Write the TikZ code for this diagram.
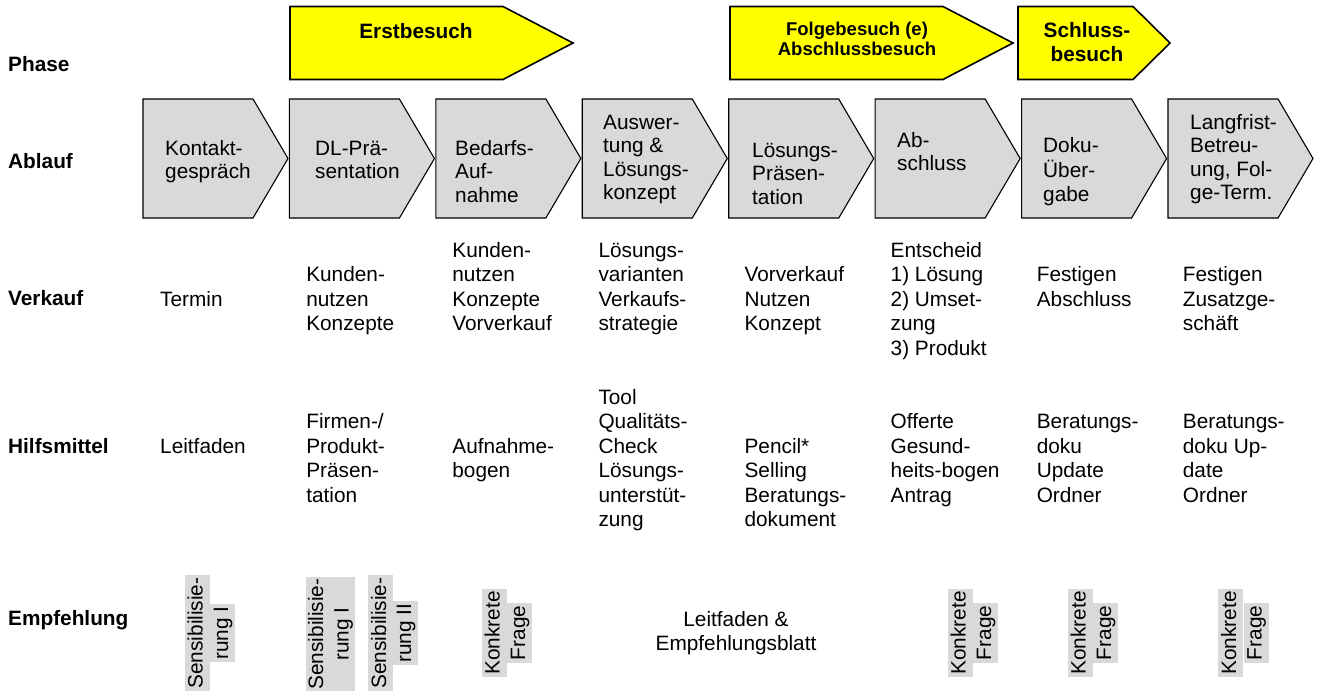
\documentclass[tikz,border=0pt]{standalone}
\usepackage{fontspec}
\setmainfont{Liberation Sans}
\definecolor{phaseyellow}{HTML}{FFFF00}
\definecolor{stepgray}{HTML}{D9D9D9}

\begin{document}
\begin{tikzpicture}[
    x=1pt, y=-1pt,
    phase/.style={draw=black, fill=phaseyellow, line width=1.6pt},
    ablauf/.style={draw=black, fill=stepgray, line width=1.1pt},
    rowlabel/.style={font=\fontsize{20.8}{24.5}\selectfont\bfseries, anchor=base west, inner sep=0pt},
    phasetext/.style={font=\fontsize{20.8}{24.5}\selectfont\bfseries, align=center, anchor=north, inner sep=0pt},
    steptext/.style={font=\fontsize{20.8}{23.5}\selectfont, align=left, anchor=north west, inner sep=0pt},
    celltext/.style={font=\fontsize{20.8}{24.5}\selectfont, align=left, anchor=north west, inner sep=0pt},
    hl/.style={font=\fontsize{20.8}{25.5}\selectfont, fill=stepgray, rotate=90, inner xsep=2.5pt, inner ysep=2.5pt, text height=15.5pt, text depth=4.5pt},
    hlblock/.style={font=\fontsize{20.8}{25.5}\selectfont, fill=stepgray, rotate=90, align=center, inner xsep=1.5pt, inner ysep=2.5pt}
  ]
    \useasboundingbox (0,0) rectangle (1319,691);

    % Zeilentitel
    \node[rowlabel] (lblPhase) at (8,71) {Phase};
    \node[rowlabel] (lblAblauf) at (8,168) {Ablauf};
    \node[rowlabel] (lblVerkauf) at (8,305) {Verkauf};
    \node[rowlabel] (lblHilfe) at (8,453) {Hilfsmittel};
    \node[rowlabel] (lblEmpf) at (8,625) {Empfehlung};

    % Phase
    \draw[phase] (290,6.5) -- (503,6.5) -- (573,43) -- (503,79.5) -- (290,79.5) -- cycle;
    \draw[phase] (730,6.5) -- (943,6.5) -- (1013,43) -- (943,79.5) -- (730,79.5) -- cycle;
    \draw[phase] (1018,6.5) -- (1133,6.5) -- (1170,43) -- (1133,79.5) -- (1018,79.5) -- cycle;
    \node[phasetext] (erst) at (416,{38.5-17.15}) {\strut Erstbesuch};
    \node[phasetext, font=\fontsize{18.5}{20}\selectfont\bfseries] (folge) at (857,{35-14}) {\strut Folgebesuch (e)\\Abschlussbesuch};
    \node[phasetext] (schluss) at (1087,{37-17.15}) {\strut Schluss-\\besuch};

    % Ablauf
    \foreach \tx/\ty/\txt [count=\i] in {
      165/155/{Kontakt-\\gespräch},
      315/155/{DL-Prä-\\sentation},
      455/155/{Bedarfs-\\Auf-\\nahme},
      603/129/{Auswer-\\tung \&\\Lösungs-\\konzept},
      752/157/{Lösungs-\\Präsen-\\tation},
      897/147/{Ab-\\schluss},
      1043/152/{Doku-\\Über-\\gabe},
      1190/129/{Langfrist-\\Betreu-\\ung, Fol-\\ge-Term.}}
    {
      \draw[ablauf] ({143+146.43*(\i-1)},99) -- ++(110,0) -- ++(35,59.5) -- ++(-35,59.5) -- ++(-110,0) -- cycle;
      \node[steptext] (step\i) at (\tx,{\ty-16.45}) {\strut\txt};
    }

    % Verkauf
    \foreach \r/\txt [count=\i] in {
      2/{Termin},
      1/{Kunden-\\nutzen\\Konzepte},
      0/{Kunden-\\nutzen\\Konzepte\\Vorverkauf},
      0/{Lösungs-\\varianten\\Verkaufs-\\strategie},
      1/{Vorverkauf\\Nutzen\\Konzept},
      0/{Entscheid\\1) Lösung\\2) Umset-\\zung\\3) Produkt},
      1/{Festigen\\Abschluss},
      1/{Festigen\\Zusatzge-\\schäft}}
    {
      \node[celltext] (sale\i) at ({160+146.1*(\i-1)},{257+24.5*\r-17.15}) {\strut\txt};
    }

    % Hilfsmittel
    \foreach \r/\txt [count=\i] in {
      2/{Leitfaden},
      1/{Firmen-/\\Produkt-\\Präsen-\\tation},
      2/{Aufnahme-\\bogen},
      0/{Tool\\Qualitäts-\\Check\\Lösungs-\\unterstüt-\\zung},
      2/{Pencil*\\Selling\\Beratungs-\\dokument},
      1/{Offerte\\Gesund-\\heits-bogen\\Antrag},
      1/{Beratungs-\\doku\\Update\\Ordner},
      1/{Beratungs-\\doku Up-\\date\\Ordner}}
    {
      \node[celltext] (aid\i) at ({160+146.1*(\i-1)},{404+24.5*\r-17.15}) {\strut\txt};
    }

    % Empfehlung
    \node[hl] (sens1a) at (197,633) {Sensibilisie-};
    \node[hl] (sens1b) at (222.5,633) {rung I};
    \node[hlblock] (sens2) at (330.5,634) {Sensibilisie-\\rung I};
    \node[hl] (sens3a) at (380.5,633) {Sensibilisie-};
    \node[hl] (sens3b) at (405.5,633) {rung II};
    \foreach \x [count=\i] in {494,960,1080,1230.5} {
      \node[hl] (ask\i a) at (\x,633) {Konkrete};
      \node[hl] (ask\i b) at ({\x+25.5},633) {Frage};
    }
    \node[celltext, align=center, anchor=north] (guide) at (736,{626-17.15}) {\strut Leitfaden \&\\Empfehlungsblatt};
\end{tikzpicture}
\end{document}
